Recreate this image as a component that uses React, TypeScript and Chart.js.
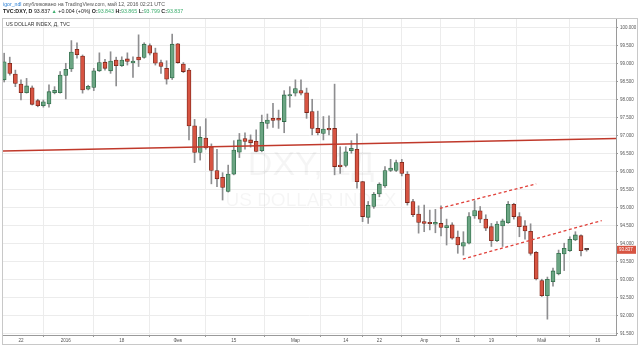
import React, { useEffect, useRef } from 'react';
import { Chart, registerables } from 'chart.js';
Chart.register(...registerables);

// Daily candles, TVC:DXY, 17 Dec 2015 .. 12 May 2016 (index = trading day)
const opens = [
  98.56, 99.02, 98.72, 98.44, 98.20, 98.34, 97.98, 97.84, 97.89, 98.20,
  98.20, 98.68, 98.86, 99.41, 99.22, 98.30, 98.35, 98.81, 99.05, 98.81,
  99.11, 98.95, 99.14, 99.03, 99.19, 99.18, 99.51, 99.31, 99.04, 98.88,
  98.61, 99.56, 99.00, 98.83, 97.28, 96.54, 96.94, 96.70, 96.04, 95.85,
  95.46, 95.94, 96.55, 96.93, 96.89, 96.85, 96.59, 97.35, 97.49, 97.49,
  97.40, 98.11, 98.19, 98.26, 98.20, 97.68, 97.21, 97.07, 97.21, 97.21,
  96.19, 96.18, 96.59, 96.63, 95.73, 94.74, 95.04, 95.39, 95.61, 96.04,
  96.04, 96.27, 95.94, 95.18, 94.83, 94.62, 94.60, 94.55, 94.57, 94.45,
  94.53, 94.19, 93.94, 94.02, 94.78, 94.92, 94.69, 94.48, 94.09, 94.50,
  94.59, 95.10, 94.76, 94.50, 94.35, 93.77, 92.98, 92.56, 92.95, 93.17,
  93.72, 93.81, 94.11, 94.23, 93.843,
];
const highs = [
  99.30, 99.19, 98.83, 98.56, 98.60, 98.39, 98.02, 98.00, 98.42, 98.37,
  98.79, 99.02, 99.65, 99.59, 99.25, 98.41, 98.88, 99.31, 99.13, 99.34,
  99.19, 99.20, 99.31, 99.20, 99.81, 99.59, 99.56, 99.44, 99.11, 99.09,
  99.83, 99.57, 99.04, 98.88, 97.46, 97.26, 97.48, 96.78, 96.63, 95.98,
  96.19, 96.87, 97.07, 97.09, 97.03, 97.17, 97.58, 97.61, 97.91, 97.72,
  98.26, 98.37, 98.56, 98.56, 98.33, 98.02, 97.69, 97.54, 97.56, 98.44,
  96.70, 96.70, 96.87, 97.06, 95.74, 95.18, 95.43, 95.70, 96.15, 96.35,
  96.33, 96.35, 96.01, 95.24, 95.06, 95.08, 94.94, 94.96, 95.06, 94.69,
  94.59, 94.36, 94.34, 94.87, 95.20, 95.04, 94.81, 94.57, 94.62, 94.69,
  95.18, 95.13, 94.87, 94.65, 94.56, 93.79, 93.02, 93.08, 93.33, 93.83,
  94.02, 94.20, 94.34, 94.25, 93.865,
];
const lows = [
  98.50, 98.69, 98.37, 98.00, 98.19, 97.86, 97.81, 97.80, 97.80, 98.17,
  98.19, 98.03, 98.79, 99.16, 98.19, 98.28, 98.26, 98.79, 98.83, 98.74,
  98.39, 98.93, 98.97, 98.63, 98.93, 99.16, 99.25, 98.97, 98.74, 98.44,
  98.57, 99.02, 98.76, 96.89, 96.26, 96.33, 96.63, 95.67, 95.59, 95.22,
  95.44, 95.92, 96.40, 96.63, 96.69, 96.56, 96.56, 97.21, 97.24, 97.21,
  97.09, 97.80, 98.11, 98.14, 97.49, 97.03, 97.03, 96.89, 97.03, 95.92,
  95.96, 96.14, 96.52, 95.55, 94.62, 94.57, 94.99, 95.31, 95.57, 96.01,
  96.01, 95.89, 95.08, 94.76, 94.30, 94.34, 94.39, 94.31, 94.22, 93.97,
  94.13, 93.74, 93.69, 94.00, 94.71, 94.59, 94.37, 93.93, 94.06, 93.93,
  94.57, 94.69, 94.20, 94.13, 93.69, 93.00, 92.54, 91.91, 92.83, 93.14,
  93.26, 93.79, 94.09, 93.67, 93.799,
];
const closes = [
  99.06, 98.74, 98.46, 98.20, 98.39, 97.88, 97.84, 97.95, 98.23, 98.27,
  98.69, 98.85, 99.33, 99.26, 98.28, 98.38, 98.81, 99.04, 98.88, 99.08,
  98.95, 99.11, 99.07, 99.08, 99.11, 99.55, 99.30, 99.02, 98.93, 98.58,
  99.55, 99.04, 98.79, 97.28, 96.54, 96.96, 96.67, 96.04, 95.81, 95.57,
  95.94, 96.61, 96.89, 96.85, 96.81, 96.57, 97.38, 97.44, 97.43, 97.44,
  98.14, 98.14, 98.32, 98.19, 97.65, 97.21, 97.09, 97.19, 97.17, 96.15,
  96.15, 96.56, 96.66, 95.73, 94.76, 95.07, 95.38, 95.66, 96.04, 96.11,
  96.26, 95.96, 95.15, 94.81, 94.60, 94.57, 94.56, 94.60, 94.46, 94.51,
  94.16, 93.97, 94.04, 94.76, 94.93, 94.69, 94.44, 94.09, 94.55, 94.64,
  95.10, 94.76, 94.48, 94.36, 93.74, 93.03, 92.56, 93.02, 93.25, 93.74,
  93.88, 94.13, 94.25, 93.81, 93.837,
];

const xTickIndex = [3, 11, 21, 31, 41, 52, 61, 67, 75, 81, 87, 96, 106];
const xTickLabels = ['22', '2016', '18', 'Фев', '15', 'Мар', '14', '22', 'Апр', '11', '19', 'Май', '16'];
const yTickValues = [91.5, 92, 92.5, 93, 93.5, 94, 94.5, 95, 95.5, 96, 96.5, 97, 97.5, 98, 98.5, 99, 99.5, 100];

// drawn trend lines (index, price)
const resistanceLine = [{ x: -0.21, y: 96.583 }, { x: 109.25, y: 96.933 }];
const channelUpper = [{ x: 77.8, y: 94.99 }, { x: 95.0, y: 95.67 }];
const channelLower = [{ x: 81.9, y: 93.58 }, { x: 106.7, y: 94.65 }];

const lastPrice = 93.837;
const headerUser = 'igor_ndl';
const headerLine1 = ' опубликовано на TradingView.com, май 12, 2016 02:21 UTC';
const paneTitle = 'US DOLLAR INDEX, Д, TVC';
const watermark1 = 'DXY, 1Д';
const watermark2 = 'US DOLLAR INDEX';

const UP = '#6ba583', UP_B = '#2f6b48', DN = '#d75442', DN_B = '#7a2418', WICK = '#8e8e90';
const FONT = '"Liberation Sans", Arial, sans-serif';

export default function App() {
  const ref = useRef<HTMLCanvasElement>(null);
  useEffect(() => {
    const canvas = ref.current!;
    const n = opens.length;
    const isUp = opens.map((o, i) => closes[i] >= o);
    const bodyBg = opens.map((_, i) => (i === n - 1 ? '#5a3a36' : isUp[i] ? UP : DN));
    const bodyBd = opens.map((_, i) => (i === n - 1 ? '#3a2a28' : isUp[i] ? UP_B : DN_B));

    const deco = {
      id: 'deco',
      beforeDatasetsDraw(chart: any) {
        const c = chart.ctx;
        c.save();
        c.fillStyle = 'rgba(0,0,0,0.04)';
        c.textAlign = 'center';
        c.textBaseline = 'middle';
        c.font = `34px ${FONT}`;
        c.fillText(watermark1, 311, 166);
        c.font = `19px ${FONT}`;
        c.fillText(watermark2, 311, 201);
        c.restore();
      },
      afterDraw(chart: any) {
        const c = chart.ctx;
        c.save();
        // frame
        c.strokeStyle = '#c8c8c8';
        c.lineWidth = 1;
        c.strokeRect(2.5, 18.5, 635, 326);
        // header line 1
        c.textBaseline = 'middle';
        c.textAlign = 'left';
        c.font = `5.2px ${FONT}`;
        let x = 3;
        c.fillStyle = '#2a7fd4';
        c.fillText(headerUser, x, 5);
        x += c.measureText(headerUser).width;
        c.fillStyle = '#555';
        c.fillText(headerLine1, x, 5);
        // header line 2
        const segs: [string, string, boolean][] = [
          ['TVC:DXY, D', '#222', true], [' 93.837 ', '#222', false], ['▲', '#3dae6e', false],
          [' +0.004 (+0%) ', '#222', false], ['O:', '#222', true], ['93.843', '#3dae6e', false],
          [' H:', '#222', true], ['93.865', '#3dae6e', false], [' L:', '#222', true],
          ['93.799', '#3dae6e', false], [' C:', '#222', true], ['93.837', '#3dae6e', false],
        ];
        x = 3;
        for (const [t, col, b] of segs) {
          c.font = `${b ? 'bold ' : ''}5.3px ${FONT}`;
          c.fillStyle = col;
          c.fillText(t, x, 12);
          x += c.measureText(t).width;
        }
        // pane title
        c.font = `5px ${FONT}`;
        c.fillStyle = '#333';
        c.fillText(paneTitle, 6, 25);
        // last price tag
        const y = chart.scales.y.getPixelForValue(lastPrice);
        const ca = chart.chartArea;
        c.fillStyle = DN;
        c.fillRect(ca.right + 1, y - 4, 19, 8);
        c.fillStyle = '#fff';
        c.font = `4.5px ${FONT}`;
        c.textAlign = 'left';
        c.fillText(lastPrice.toFixed(3), ca.right + 3, y + 0.3);
        c.restore();
      },
    };

    const chart = new Chart(canvas, {
      type: 'bar',
      data: {
        datasets: [
          {
            type: 'line',
            data: resistanceLine,
            borderColor: '#c0392b',
            borderWidth: 1.5,
            pointRadius: 0,
            order: 0,
          } as any,
          {
            type: 'line',
            data: channelUpper,
            borderColor: '#e0403a',
            borderWidth: 1.3,
            borderDash: [3, 2.5],
            pointRadius: 0,
            order: 0,
          } as any,
          {
            type: 'line',
            data: channelLower,
            borderColor: '#e0403a',
            borderWidth: 1.3,
            borderDash: [3, 2.5],
            pointRadius: 0,
            order: 0,
          } as any,
          {
            type: 'bar',
            data: opens.map((o, i) => ({ x: i, y: [o, closes[i]] })),
            backgroundColor: bodyBg,
            borderColor: bodyBd,
            borderWidth: 0.8,
            borderSkipped: false,
            barThickness: 4,
            minBarLength: 1.5,
            grouped: false,
            order: 1,
          } as any,
          {
            type: 'bar',
            data: opens.map((_, i) => ({ x: i, y: [lows[i], highs[i]] })),
            backgroundColor: WICK,
            borderWidth: 0,
            barThickness: 1,
            grouped: false,
            order: 2,
          } as any,
        ],
      },
      options: {
        animation: false,
        responsive: false,
        devicePixelRatio: 1,
        layout: { padding: { left: 3, top: 19, right: 0, bottom: 0 } },
        plugins: { legend: { display: false }, tooltip: { enabled: false } },
        scales: {
          x: {
            type: 'linear',
            min: -0.21,
            max: 109.25,
            offset: false,
            afterFit: (s: any) => { s.height = 12; },
            afterBuildTicks: (s: any) => { s.ticks = xTickIndex.map((v) => ({ value: v })); },
            grid: { color: '#ececec', tickColor: '#9a9a9a', tickLength: 2, drawTicks: true },
            border: { color: '#9a9a9a' },
            ticks: {
              autoSkip: false,
              maxRotation: 0,
              padding: 1,
              color: '#555',
              font: { size: 4.6, family: FONT },
              callback: (v: any) => { const k = xTickIndex.indexOf(Number(v)); return k >= 0 ? xTickLabels[k] : ''; },
            },
          },
          y: {
            type: 'linear',
            position: 'right',
            min: 91.47,
            max: 100.25,
            afterFit: (s: any) => { s.width = 24; },
            afterBuildTicks: (s: any) => { s.ticks = yTickValues.map((v) => ({ value: v })); },
            grid: { color: '#ececec', tickColor: '#9a9a9a', tickLength: 2, drawTicks: true },
            border: { color: '#9a9a9a' },
            ticks: {
              padding: 2,
              color: '#555',
              font: { size: 4.5, family: FONT },
              callback: (v: any) => Number(v).toFixed(3),
            },
          },
        },
      } as any,
      plugins: [deco],
    });
    return () => chart.destroy();
  }, []);
  return (
    <div style={{ position: 'absolute', left: 0, top: 0, width: 640, height: 347, background: '#fff' }}>
      <canvas ref={ref} width={640} height={347} style={{ display: 'block', width: 640, height: 347 }} />
    </div>
  );
}
